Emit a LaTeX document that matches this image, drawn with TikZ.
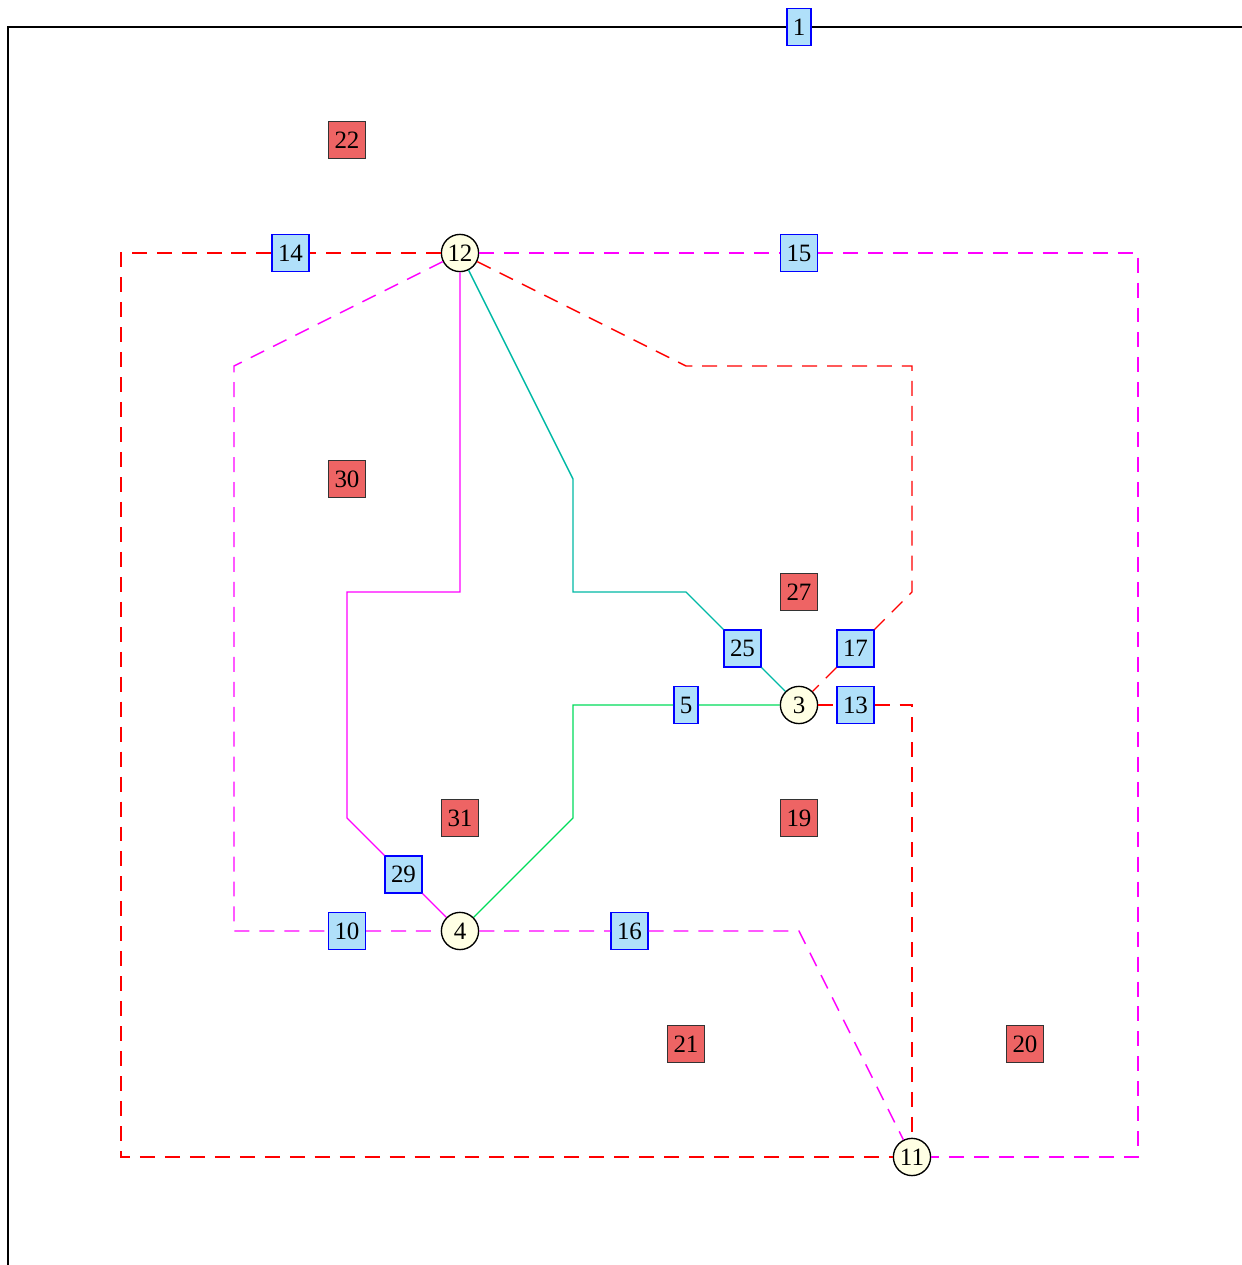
\documentclass[tikz,border=0pt]{standalone}
\usepackage{fontspec}
\setmainfont{Liberation Serif}
\usetikzlibrary{positioning}

\definecolor{portblue}{RGB}{176,224,250}
\definecolor{facered}{RGB}{238,100,100}
\definecolor{vertexcream}{RGB}{255,255,228}
\definecolor{linkteal}{RGB}{0,185,165}
\definecolor{linkgreen}{RGB}{0,220,90}
\definecolor{linkpink}{RGB}{255,0,255}
\definecolor{linkred}{RGB}{255,0,0}

\begin{document}
\begin{tikzpicture}[x=1.75cm,y=-1.75cm,line width=0.6pt,
  every node/.style={font=\fontsize{11pt}{13pt}\selectfont},
  port/.style={draw=blue,fill=portblue,inner xsep=2.6pt,inner ysep=1pt,minimum height=16.2pt},
  face/.style={draw=black!80,fill=facered,inner sep=1pt,minimum size=16.2pt},
  vertex/.style={circle,draw,fill=vertexcream,inner sep=0.5pt,minimum size=16.4pt},
  redlink/.style={linkred,dash pattern=on 6.6pt off 4.4pt},
  pinklink/.style={linkpink,dash pattern=on 6.6pt off 4.4pt}]

  \useasboundingbox (-0.0708,-0.239) rectangle (10.92,10.956);

  % vertices
  \node[vertex] (12) at (4,2) {12};
  \node[vertex] (3) at (7,6) {3};
  \node[vertex] (4) at (4,8) {4};
  \node[vertex] (11) at (8,10) {11};

  % ports
  \node[port] (1) at (7,0) {1};
  \node[port] (14) at (2.5,2) {14};
  \node[port] (15) at (7,2) {15};
  \node[port] (25) at (6.5,5.5) {25};
  \node[port] (17) at (7.5,5.5) {17};
  \node[port] (5) at (6,6) {5};
  \node[port] (13) at (7.5,6) {13};
  \node[port] (29) at (3.5,7.5) {29};
  \node[port] (10) at (3,8) {10};
  \node[port] (16) at (5.5,8) {16};

  % faces
  \node[face] (22) at (3,1) {22};
  \node[face] (30) at (3,4) {30};
  \node[face] (27) at (7,5) {27};
  \node[face] (31) at (4,7) {31};
  \node[face] (19) at (7,7) {19};
  \node[face] (21) at (6,9) {21};
  \node[face] (20) at (9,9) {20};

  % outer frame
  \draw[line width=1pt] (0,11.5) -- (0,0) -- (1) -- (11.5,0);

  \draw[redlink] (12) -- (14) -- (1,2) -- (1,10) -- (11);
  \draw[pinklink] (12) -- (15) -- (10,2) -- (10,10) -- (11);
  \draw[pinklink] (12) -- (2,3) -- (2,8) -- (10) -- (4);
  \draw[redlink] (12) -- (6,3) -- (8,3) -- (8,5) -- (17) -- (3);
  \draw[linkteal] (12) -- (5,4) -- (5,5) -- (6,5) -- (25) -- (3);
  \draw[linkpink] (12) -- (4,5) -- (3,5) -- (3,7) -- (29) -- (4);
  \draw[linkgreen] (4) -- (5,7) -- (5,6) -- (5) -- (3);
  \draw[pinklink] (4) -- (16) -- (7,8) -- (11);
  \draw[redlink] (3) -- (13) -- (8,6) -- (11);

\end{tikzpicture}
\end{document}
